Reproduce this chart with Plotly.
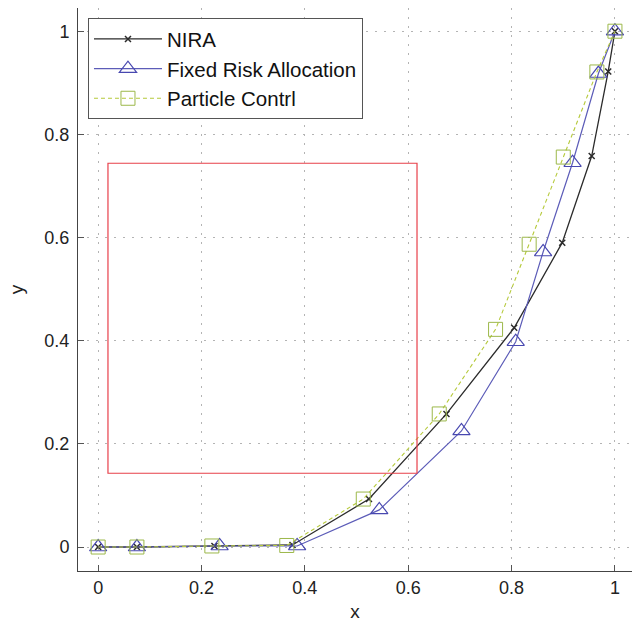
import plotly.graph_objects as go

# Success probability curves for three planners
nira_x = [0, 0.075, 0.225, 0.376, 0.524, 0.674, 0.805, 0.898, 0.955, 0.987, 1.0]
nira_y = [0, 0, 0.002, 0.004, 0.093, 0.258, 0.425, 0.590, 0.758, 0.922, 1.0]

fra_x = [0, 0.075, 0.235, 0.385, 0.544, 0.703, 0.808, 0.861, 0.918, 0.968, 1.0]
fra_y = [0, 0, 0.002, 0.002, 0.072, 0.225, 0.398, 0.572, 0.745, 0.918, 1.0]

pc_x = [0, 0.075, 0.220, 0.365, 0.513, 0.660, 0.769, 0.834, 0.900, 0.965, 1.0]
pc_y = [0, 0, 0.002, 0.003, 0.093, 0.258, 0.422, 0.587, 0.756, 0.921, 1.0]

# Highlighted region (x0, x1, y0, y1)
region_x = [0.019, 0.617]
region_y = [0.143, 0.744]

x_ticks = [0, 0.2, 0.4, 0.6, 0.8, 1]
y_ticks = [0, 0.2, 0.4, 0.6, 0.8, 1]

FONT = "Liberation Sans, Arial, sans-serif"

fig = go.Figure()

fig.add_trace(go.Scatter(
    x=nira_x, y=nira_y, name="NIRA", mode="lines+markers",
    line=dict(color="#2b2b2b", width=1.3),
    marker=dict(symbol="x-thin", size=6, line=dict(color="#2b2b2b", width=1.5)),
))
fig.add_trace(go.Scatter(
    x=fra_x, y=fra_y, name="Fixed Risk Allocation", mode="lines+markers",
    line=dict(color="#5c5cb8", width=1.2),
    marker=dict(symbol="triangle-up-open", size=15, color="#4848b0",
                line=dict(width=1.2)),
))
fig.add_trace(go.Scatter(
    x=pc_x, y=pc_y, name="Particle Contrl", mode="lines+markers",
    line=dict(color="#b5c93a", width=1.1, dash="4px,3px"),
    marker=dict(symbol="square-open", size=14, color="#9cb84a",
                line=dict(width=1)),
))

fig.add_shape(type="rect", xref="x", yref="y",
              x0=region_x[0], x1=region_x[1], y0=region_y[0], y1=region_y[1],
              line=dict(color="#e8404a", width=1.2), fillcolor="rgba(0,0,0,0)")

axis_common = dict(
    showline=True, linecolor="#444", linewidth=1, mirror=False,
    ticks="inside", ticklen=6, tickcolor="#555",
    showgrid=True, gridcolor="#b4b4b4", griddash="2px,7px", gridwidth=1,
    zeroline=False,
    tickfont=dict(family=FONT, size=18, color="#222"),
)

fig.update_xaxes(range=[-0.039, 1.033], tickvals=x_ticks,
                 ticktext=["0", "0.2", "0.4", "0.6", "0.8", "1"],
                 title=dict(text="x", font=dict(family=FONT, size=19, color="#222"),
                            standoff=8),
                 **axis_common)
fig.update_yaxes(range=[-0.0465, 1.045], tickvals=y_ticks,
                 ticktext=["0", "0.2", "0.4", "0.6", "0.8", "1"],
                 ticklabelstandoff=4,
                 title=dict(text="y", font=dict(family=FONT, size=19, color="#222"),
                            standoff=15),
                 **axis_common)

fig.update_layout(
    width=633, height=626,
    margin=dict(l=78, r=1, t=8, b=55),
    plot_bgcolor="white", paper_bgcolor="white",
    showlegend=True,
    legend=dict(x=0.018, y=0.982, xanchor="left", yanchor="top",
                bgcolor="white", bordercolor="#555", borderwidth=1,
                font=dict(family=FONT, size=20.5, color="#111"),
                tracegroupgap=0, itemwidth=68),
)

fig.write_html("out.html")
